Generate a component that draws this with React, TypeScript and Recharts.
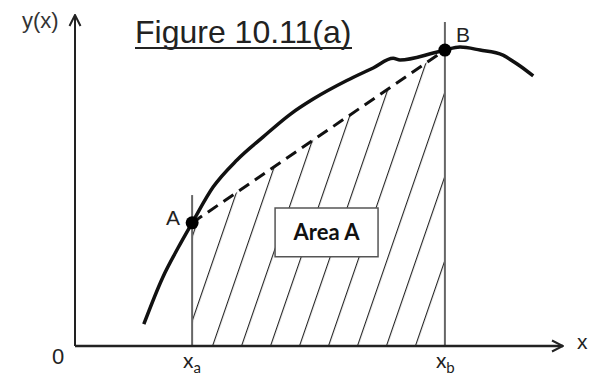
import React from 'react';
import {
  ComposedChart, Line, Area, XAxis, YAxis, ReferenceLine, ReferenceDot, ReferenceArea,
} from 'recharts';

// ---- data (chart units: x 0..100, y 0..100) ----
const curveX = [14.1, 18.0, 21.1, 24.0, 28.3, 33.2, 38.5, 44.1, 48.8, 55.7, 61.1, 65.2, 66.6, 73.4, 75.8, 78.9, 83.0, 87.7, 88.7, 91.2, 93.9];
const curveY = [6.6, 20.8, 29.6, 37.2, 48.0, 56.2, 63.1, 70.0, 74.6, 80.2, 84.0, 86.9, 86.4, 88.5, 89.4, 90.3, 89.4, 87.9, 87.0, 84.6, 81.6];
const pointNames = ['A', 'B'];
const pointX = [24.0, 75.8];
const pointY = [37.2, 89.4];
const guideTops = [45.6, 97.9];
const tickValues = [24.0, 75.8];
const tickSubs = ['a', 'b'];
const yTicks = [0];
const areaLabel = 'Area A';
const areaBox = { x1: 41.0, x2: 62.1, y1: 27.0, y2: 41.7 };
const title = 'Figure 10.11(a)';

const curveData = curveX.map((x, i) => ({ x, y: curveY[i] }));
const chordData = pointX.map((x, i) => ({ x, y: pointY[i] }));

const XTick = (props: any) => {
  const { x, y, payload } = props;
  const idx = tickValues.indexOf(payload.value);
  return (
    <text x={x - 9} y={y + 14} fontFamily="Lato, 'Open Sans', sans-serif" fontSize={21} fill="#222">
      x<tspan dy={5} fontSize={15}>{tickSubs[idx]}</tspan>
    </text>
  );
};

const YTick = (props: any) => {
  const { x, y, payload } = props;
  return (
    <text x={x - 9} y={y + 18} textAnchor="middle" fontFamily="'Liberation Sans', Arial, sans-serif" fontSize={22} fill="#222">
      {String(payload.value)}
    </text>
  );
};

const PointLabel = (side: 'left' | 'right') => (props: any) => {
  const { viewBox, value } = props;
  const cx = viewBox.x + (viewBox.width || 0) / 2;
  const cy = viewBox.y + (viewBox.height || 0) / 2;
  if (side === 'left') {
    return (
      <text x={cx - 12} y={cy + 2} textAnchor="end" fontFamily="'Liberation Sans', Arial, sans-serif" fontSize={21} fill="#222">{value}</text>
    );
  }
  return (
    <text x={cx + 11} y={cy - 8} textAnchor="start" fontFamily="'Liberation Sans', Arial, sans-serif" fontSize={21} fill="#222">{value}</text>
  );
};

export default function App() {
  return (
    <div style={{ position: 'absolute', left: 0, top: 0, background: '#fff' }}>
      <ComposedChart width={599} height={378} margin={{ top: 15, right: 36, bottom: 0, left: 0 }}>
        <defs>
          <marker id="arrowHead" viewBox="0 0 14 14" refX={13} refY={7} markerWidth={14} markerHeight={14} markerUnits="userSpaceOnUse" orient="auto-start-reverse">
            <path d="M2,1.5 L13,7 L2,12.5" fill="none" stroke="#222" strokeWidth={2} />
          </marker>
          <pattern id="hatch" patternUnits="userSpaceOnUse" x={11.7} y={0} width={27.4} height={40} patternTransform="rotate(19)">
            <line x1={0} y1={0} x2={0} y2={40} stroke="#222" strokeWidth={2.2} />
          </pattern>
        </defs>
        <XAxis
          type="number"
          dataKey="x"
          domain={[0, 100]}
          ticks={tickValues}
          tick={<XTick />}
          tickLine={false}
          height={32}
          axisLine={{ stroke: '#222', strokeWidth: 2.5, markerEnd: 'url(#arrowHead)' }}
        />
        <YAxis
          type="number"
          dataKey="y"
          domain={[0, 100]}
          ticks={yTicks}
          tick={<YTick />}
          tickLine={false}
          width={75}
          axisLine={{ stroke: '#222', strokeWidth: 2, markerStart: 'url(#arrowHead)' }}
        />
        <Area
          data={chordData}
          dataKey="y"
          type="linear"
          stroke="none"
          fill="url(#hatch)"
          fillOpacity={1}
          isAnimationActive={false}
        />
        <ReferenceArea
          x1={areaBox.x1}
          x2={areaBox.x2}
          y1={areaBox.y1}
          y2={areaBox.y2}
          fill="#fff"
          fillOpacity={1}
          stroke="#555"
          strokeWidth={1.5}
          label={{ value: areaLabel, position: 'center', fill: '#111', fontSize: 22, fontWeight: 'bold', fontFamily: "Lato, 'Open Sans', sans-serif" }}
        />
        {pointX.map((x, i) => (
          <ReferenceLine
            key={'g' + i}
            segment={[{ x, y: 0 }, { x, y: guideTops[i] }]}
            stroke="#666"
            strokeWidth={2}
          />
        ))}
        <Line
          data={chordData}
          dataKey="y"
          type="linear"
          stroke="#111"
          strokeWidth={3}
          strokeDasharray="12 7"
          dot={false}
          isAnimationActive={false}
        />
        <Line
          data={curveData}
          dataKey="y"
          type="monotone"
          stroke="#111"
          strokeWidth={3.5}
          dot={false}
          isAnimationActive={false}
        />
        {pointX.map((x, i) => (
          <ReferenceDot
            key={'p' + i}
            x={x}
            y={pointY[i]}
            r={6.5}
            fill="#000"
            stroke="none"
            label={{ value: pointNames[i], content: PointLabel(i === 0 ? 'left' : 'right') }}
          />
        ))}
        <text x={135} y={43} fontFamily="'Liberation Sans', Arial, sans-serif" fontSize={32} fill="#222">{title}</text>
        <line x1={135} y1={48} x2={352} y2={48} stroke="#222" strokeWidth={2} />
        <text x={22} y={28} fontFamily="'Liberation Sans', Arial, sans-serif" fontSize={22} fill="#333">y(x)</text>
        <text x={577} y={349} fontFamily="'Liberation Sans', Arial, sans-serif" fontSize={21} fill="#222">x</text>
      </ComposedChart>
    </div>
  );
}
